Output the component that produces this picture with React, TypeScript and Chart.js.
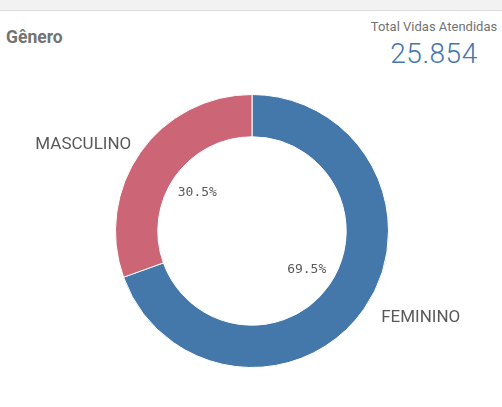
import React, { useEffect, useRef } from "react";
import { Chart, registerables } from "chart.js";

Chart.register(...registerables);

const categories = ["FEMININO", "MASCULINO"];
const percentages = [69.5, 30.5];
const colors = ["#4477aa", "#cc6677"];
const totalLabel = "Total Vidas Atendidas";
const totalValue = "25.854";
const title = "Gênero";

const labelPlugin = {
  id: "donutLabels",
  afterDatasetsDraw(chart: any) {
    const ctx = chart.ctx;
    const meta = chart.getDatasetMeta(0);
    meta.data.forEach((arc: any, i: number) => {
      const { x, y, startAngle, endAngle, innerRadius, outerRadius } = arc.getProps(
        ["x", "y", "startAngle", "endAngle", "innerRadius", "outerRadius"],
        true
      );
      const mid = (startAngle + endAngle) / 2;
      const r1 = innerRadius * 0.71;
      ctx.save();
      ctx.font = "13px 'DejaVu Sans Mono'";
      ctx.fillStyle = "#595959";
      ctx.textAlign = "center";
      ctx.textBaseline = "middle";
      ctx.fillText(percentages[i].toFixed(1) + "%", x + Math.cos(mid) * r1, y + Math.sin(mid) * r1);
      const a = mid - (8 * Math.PI) / 180;
      const r2 = outerRadius + 53;
      const lx = x + Math.cos(a) * r2;
      const ly = y + Math.sin(a) * r2;
      ctx.font = "17px Roboto";
      ctx.fillStyle = "#595959";
      ctx.textAlign = "center";
      ctx.fillText(categories[i], lx, ly);
      ctx.restore();
    });
  },
};

export default function App() {
  const ref = useRef<HTMLCanvasElement>(null);
  useEffect(() => {
    const chart = new Chart(ref.current!, {
      type: "doughnut",
      data: {
        labels: categories,
        datasets: [
          {
            data: percentages,
            backgroundColor: colors,
            borderColor: "#ffffff",
            borderWidth: 1,
          },
        ],
      },
      options: {
        animation: false,
        responsive: false,
        cutout: "69%",
        layout: { padding: { left: 115, right: 113, top: 94, bottom: 39 } },
        plugins: { legend: { display: false }, tooltip: { enabled: false } },
      },
      plugins: [labelPlugin],
    });
    return () => chart.destroy();
  }, []);

  return (
    <div style={{ position: "fixed", left: 0, top: 0, width: 502, height: 407, background: "#fff", overflow: "hidden" }}>
      <div style={{ position: "absolute", left: 0, top: 0, width: 502, height: 10, background: "#f2f2f2", borderBottom: "1px solid #dcdcdc" }} />
      <div style={{ position: "absolute", left: 6, top: 27, font: "bold 17.5px Roboto", color: "#737373" }}>{title}</div>
      <div style={{ position: "absolute", right: 3, top: 19, width: 130, textAlign: "center" }}>
        <div style={{ font: "13px Roboto", color: "#737373", whiteSpace: "nowrap" }}>{totalLabel}</div>
        <div style={{ font: "300 28px Roboto", color: "#4477aa", marginTop: 3, letterSpacing: 0.5 }}>{totalValue}</div>
      </div>
      <canvas ref={ref} width={502} height={407} style={{ position: "absolute", left: 0, top: 0 }} />
    </div>
  );
}
